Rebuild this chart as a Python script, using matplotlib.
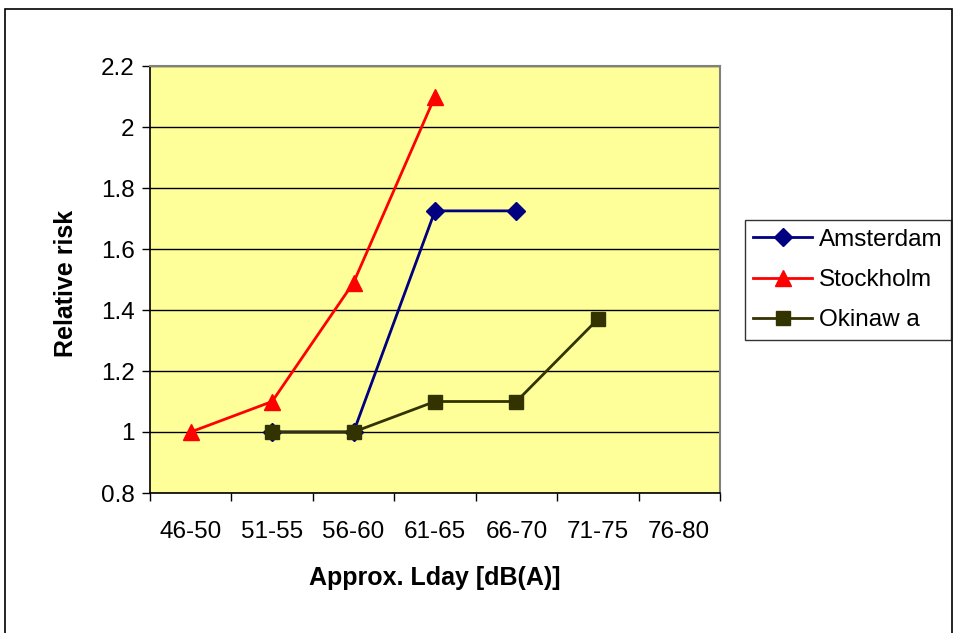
import matplotlib
matplotlib.use("Agg")
import matplotlib.pyplot as plt
from matplotlib.patches import Rectangle
from matplotlib.lines import Line2D
import numpy as np

plt.rcParams['font.family'] = ['Liberation Sans', 'DejaVu Sans']

categories = ["46-50", "51-55", "56-60", "61-65", "66-70", "71-75", "76-80"]
amsterdam = [None, 1.0, 1.0, 1.725, 1.725, None, None]
stockholm = [1.0, 1.1, 1.49, 2.1, None, None, None]
okinawa = [None, 1.0, 1.0, 1.1, 1.1, 1.37, None]
yticks = [0.8, 1.0, 1.2, 1.4, 1.6, 1.8, 2.0, 2.2]
ytick_labels = ["0.8", "1", "1.2", "1.4", "1.6", "1.8", "2", "2.2"]

fig = plt.figure(figsize=(9.61, 6.33), dpi=100)
fig.patches.append(Rectangle((5/961, -0.05), 947/961, 1 - 9/633 + 0.05,
                             transform=fig.transFigure, fill=False,
                             edgecolor='black', linewidth=1.2))

ax = fig.add_axes([150/961, 1 - 493/633, 570/961, 427/633])
ax.set_facecolor('#FFFF99')
x = np.arange(len(categories))

def series(vals):
    xs = [i for i, v in enumerate(vals) if v is not None]
    ys = [v for v in vals if v is not None]
    return xs, ys

sx, sy = series(stockholm)
ax.plot(sx, sy, color='#FF0000', lw=2, marker='^', ms=11, mec='#FF0000',
        mfc='#FF0000', label='Stockholm', zorder=3)
ax_, ay = series(amsterdam)
ax.plot(ax_, ay, color='#000080', lw=2, marker='D', ms=9, mec='#000080',
        mfc='#000080', label='Amsterdam', zorder=4)
ox, oy = series(okinawa)
ax.plot(ox, oy, color='#333300', lw=2, marker='s', ms=10, mec='#333300',
        mfc='#333300', label='Okinaw a', zorder=5)

ax.set_xlim(-0.5, len(categories) - 0.5)
ax.set_ylim(0.8, 2.2)
ax.set_yticks(yticks)
ax.set_yticklabels(ytick_labels, fontsize=17.5)
ax.yaxis.grid(True, color='black', lw=1)
ax.set_axisbelow(True)

ax.set_xticks(x)
ax.set_xticklabels(categories, fontsize=17.5)
ax.tick_params(axis='x', length=0, pad=20)
ax.set_xticks(np.arange(-0.5, len(categories) + 0.5, 1), minor=True)
ax.tick_params(axis='x', which='minor', length=6, width=1, direction='out')
ax.tick_params(axis='y', length=6, width=1, direction='out', pad=5)

for s in ['top', 'right']:
    ax.spines[s].set_color('#808080')
    ax.spines[s].set_linewidth(1.5)
for s in ['left', 'bottom']:
    ax.spines[s].set_color('black')
    ax.spines[s].set_linewidth(1.2)

fig.text(66/961, 1 - 283/633, 'Relative risk', rotation=90, fontsize=18,
         fontweight='bold', ha='center', va='center')
fig.text(435/961, 1 - 578/633, 'Approx. Lday [dB(A)]', fontsize=18,
         fontweight='bold', ha='center', va='center')

handles = [
    Line2D([], [], color='#000080', lw=2, marker='D', ms=9, mfc='#000080', mec='#000080'),
    Line2D([], [], color='#FF0000', lw=2, marker='^', ms=11, mfc='#FF0000', mec='#FF0000'),
    Line2D([], [], color='#333300', lw=2, marker='s', ms=10, mfc='#333300', mec='#333300'),
]
leg = fig.legend(handles, ['Amsterdam', 'Stockholm', 'Okinaw a'],
                 loc='center', bbox_to_anchor=(848/961, 1 - 280/633),
                 fontsize=17.5, frameon=True, fancybox=False, edgecolor='black',
                 handlelength=2.4, labelspacing=0.75, borderpad=0.35,
                 handletextpad=0.3, borderaxespad=0)
leg.get_frame().set_linewidth(1)

fig.savefig('out.png', dpi=100)
